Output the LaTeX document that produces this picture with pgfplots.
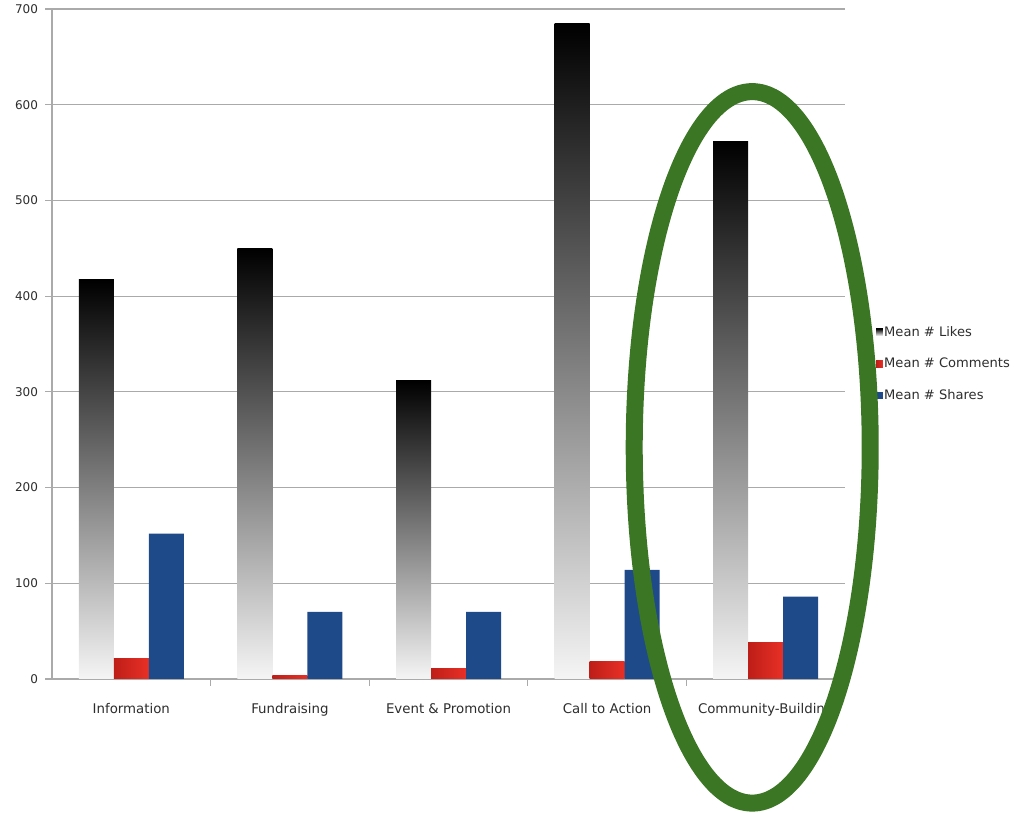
\documentclass[border=0pt]{standalone}
\usepackage{pgfplots}
\pgfplotsset{compat=1.18}
\usepackage{fontspec}
\setmainfont{DejaVu Sans}
\definecolor{txt}{RGB}{45,45,45}
\definecolor{gridc}{RGB}{170,170,170}
\definecolor{redb}{RGB}{232,48,38}
\definecolor{redd}{RGB}{190,30,24}
\definecolor{blueb}{RGB}{30,74,138}
\definecolor{ell}{RGB}{58,118,35}

\begin{document}
\begin{tikzpicture}
\path[use as bounding box] (0,0) rectangle (761.25pt,609.75pt);
\begin{axis}[
  at={(39pt,100.5pt)}, anchor=south west,
  scale only axis, width=594.75pt, height=502.5pt,
  ybar=0pt, bar width=26.25pt,
  xmin=-0.5, xmax=4.5, ymin=0, ymax=700,
  xtick={0,1,2,3,4},
  xticklabels={Information,Fundraising,Event \& Promotion,Call to Action,Community-Building},
  minor xtick={0.5,1.5,2.5,3.5},
  major x tick style={draw=none},
  minor tick length=5pt,
  major tick length=5pt,
  tick align=outside,
  ytick={0,100,...,700},
  ymajorgrids,
  grid style={gridc, line width=0.9pt},
  axis x line*=bottom, axis y line*=left,
  axis line style={gridc, line width=0.9pt},
  tick style={gridc, line width=0.9pt},
  /pgf/number format/assume math mode=true,
  yticklabel style={font=\fontsize{9}{10}\selectfont, text=txt, xshift=-2pt},
  xticklabel style={font=\fontsize{10}{12}\selectfont, text=txt, yshift=-10pt},
  legend style={draw=none, fill=none, at={(1.039,0.47)}, anchor=west,
    inner sep=0pt, row sep=11pt, font=\fontsize{9.8}{11}\selectfont, text=txt,
    nodes={inner xsep=1pt}},
  legend cell align=left,
  clip=false,
  likes/.style={draw=none, bar shift=-26.25pt, top color=black, bottom color=white!96!black},
  comm/.style={draw=none, bar shift=0pt, left color=redd, right color=redb},
]
% Mean # Likes (one plot per bar so that each bar has its own shading)
\addplot[likes,
  legend image code/.code={\fill[black!75] (0pt,-2.6pt) rectangle (5pt,2.6pt);}]
  coordinates {(0,417)};
\addlegendentry{Mean \# Likes}
\addplot[likes, forget plot] coordinates {(1,450)};
\addplot[likes, forget plot] coordinates {(2,312)};
\addplot[likes, forget plot] coordinates {(3,685)};
\addplot[likes, forget plot] coordinates {(4,562)};
% Mean # Comments
\addplot[comm,
  legend image code/.code={\fill[redb] (0pt,-2.6pt) rectangle (5pt,2.6pt);}]
  coordinates {(0,21)};
\addlegendentry{Mean \# Comments}
\addplot[comm, forget plot] coordinates {(1,4)};
\addplot[comm, forget plot] coordinates {(2,11)};
\addplot[comm, forget plot] coordinates {(3,18)};
\addplot[comm, forget plot] coordinates {(4,38)};
% Mean # Shares
\addplot[draw=none, fill=blueb, bar shift=26.25pt,
  legend image code/.code={\fill[blueb] (0pt,-2.6pt) rectangle (5pt,2.6pt);}]
  coordinates {(0,152) (1,70) (2,70) (3,114) (4,86)};
\addlegendentry{Mean \# Shares}
\coordinate (ec) at (axis cs:3.915,242.0);
\end{axis}
\draw[ell, line width=12.75pt] (ec) ellipse [x radius=88.5pt, y radius=266.8pt];
\end{tikzpicture}
\end{document}
